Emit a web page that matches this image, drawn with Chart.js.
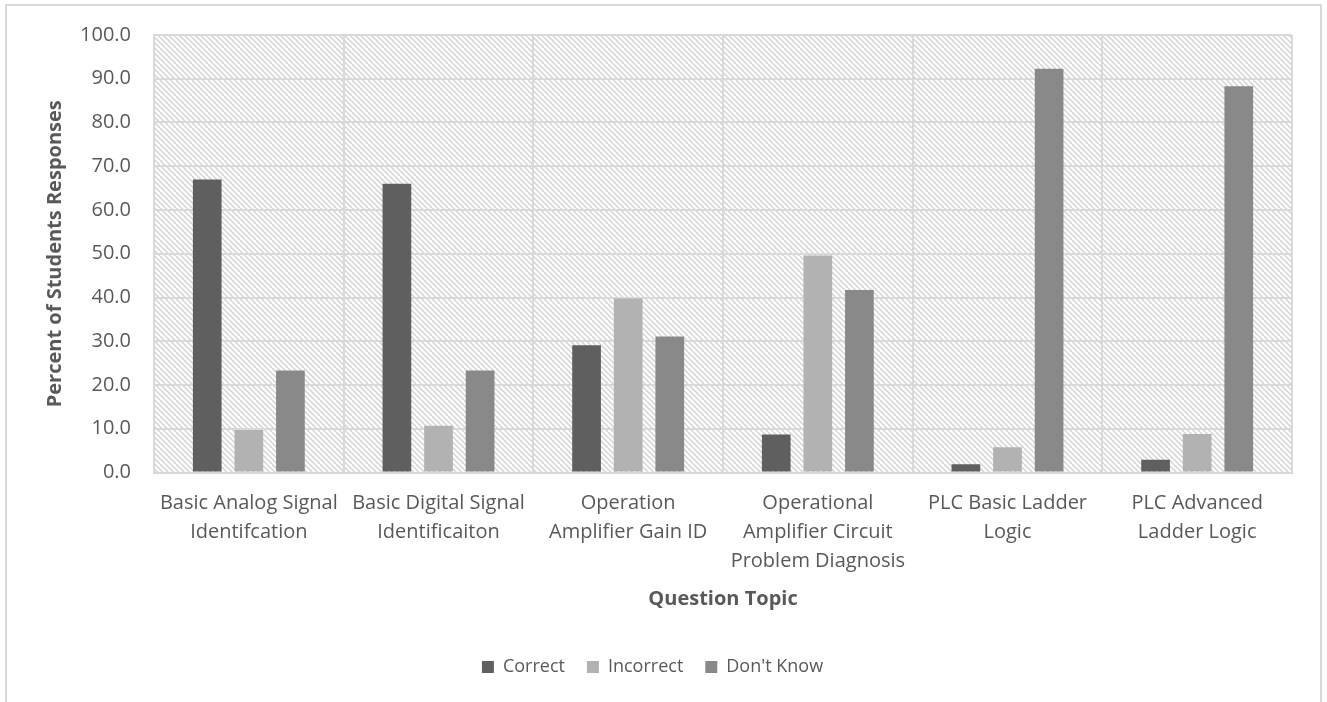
<!DOCTYPE html>
<html>
<head>
<meta charset="utf-8">
<script src="https://cdn.jsdelivr.net/npm/chart.js@4.4.1/dist/chart.umd.min.js"></script>
<style>
  html, body { margin: 0; padding: 0; background: #ffffff; }
  #wrap { position: relative; width: 1327px; height: 702px; }
</style>
</head>
<body>
<div id="wrap"><canvas id="chart"></canvas></div>
<script>
// Question topics (wrapped into lines as they appear under the axis)
const categories = [
  ['Basic Analog Signal', 'Identifcation'],
  ['Basic Digital Signal', 'Identificaiton'],
  ['Operation', 'Amplifier Gain ID'],
  ['Operational', 'Amplifier Circuit', 'Problem Diagnosis'],
  ['PLC Basic Ladder', 'Logic'],
  ['PLC Advanced', 'Ladder Logic']
];

// Percent of student responses per topic
const correct   = [67.0, 66.0, 29.1, 8.7, 1.9, 2.9];
const incorrect = [9.7, 10.7, 39.8, 49.6, 5.8, 8.8];
const dontKnow  = [23.3, 23.3, 31.1, 41.7, 92.3, 88.3];

const seriesNames = ['Correct', 'Incorrect', "Don't Know"];

// Value axis range and step
const yMin = 0;
const yMax = 100;
const yStep = 10;

const TEXT = '#595959';
const GRID = '#d9d9d9';

Chart.defaults.font.family = "'Open Sans', 'DejaVu Sans', sans-serif";

// Light diagonal hatch used behind the plot area
const hatchTile = (() => {
  const s = 16;
  const c = document.createElement('canvas');
  c.width = s; c.height = s;
  const g = c.getContext('2d');
  g.fillStyle = '#ffffff';
  g.fillRect(0, 0, s, s);
  g.strokeStyle = '#d6d6d6';
  g.lineWidth = 1.6;
  for (let k = -4; k <= 4; k++) {
    const x0 = k * s / 3;
    g.beginPath();
    g.moveTo(x0, 0);
    g.lineTo(x0 + s, s);
    g.stroke();
  }
  return c;
})();

const backdrop = {
  id: 'backdrop',
  afterLayout(chart) {
    // nudge the legend row a little to the left of the plot centre
    if (chart.legend) chart.legend.left -= 30;
  },
  beforeDraw(chart) {
    const { ctx, chartArea: a, width, height } = chart;
    ctx.save();
    ctx.fillStyle = '#ffffff';
    ctx.fillRect(0, 0, width, height);
    ctx.fillStyle = ctx.createPattern(hatchTile, 'repeat');
    ctx.fillRect(a.left, a.top, a.right - a.left, a.bottom - a.top);
    // outer frame of the chart
    ctx.strokeStyle = GRID;
    ctx.lineWidth = 2;
    ctx.strokeRect(6, 5, 1315, 720);
    ctx.restore();
  }
};

new Chart(document.getElementById('chart'), {
  type: 'bar',
  data: {
    labels: categories,
    datasets: [
      { label: seriesNames[0], data: correct,   backgroundColor: '#5f5f5f' },
      { label: seriesNames[1], data: incorrect, backgroundColor: '#b2b2b2' },
      { label: seriesNames[2], data: dontKnow,  backgroundColor: '#898989' }
    ]
  },
  options: {
    responsive: true,
    maintainAspectRatio: false,
    animation: false,
    datasets: {
      bar: { categoryPercentage: 0.658, barPercentage: 0.69, borderWidth: 0 }
    },
    layout: { padding: { left: 43, right: 35, top: 34, bottom: 16 } },
    plugins: {
      tooltip: { enabled: false },
      legend: {
        position: 'bottom',
        labels: {
          boxWidth: 12,
          boxHeight: 12,
          padding: 22,
          color: TEXT,
          font: { size: 18 }
        }
      }
    },
    scales: {
      x: {
        grid: { color: GRID, lineWidth: 2, drawTicks: false, offset: true },
        border: { display: true, color: GRID, width: 2 },
        ticks: {
          color: TEXT,
          font: { size: 20, lineHeight: 1.45 },
          padding: 16,
          autoSkip: false,
          maxRotation: 0,
          minRotation: 0
        },
        title: {
          display: true,
          text: 'Question Topic',
          color: TEXT,
          font: { size: 20, weight: 'bold', lineHeight: 1.2 },
          padding: { top: 0, bottom: 25 }
        },
        afterFit(scale) { scale.height = 163.5; }
      },
      y: {
        min: yMin,
        max: yMax,
        grid: { color: GRID, lineWidth: 2, drawTicks: false },
        border: { display: true, color: GRID, width: 2 },
        ticks: {
          stepSize: yStep,
          color: TEXT,
          font: { size: 20 },
          padding: 23,
          callback: (v) => Number(v).toFixed(1)
        },
        title: {
          display: true,
          text: 'Percent of Students Responses',
          color: TEXT,
          font: { size: 20, weight: 'bold', lineHeight: 1.2 },
          padding: { top: 0, bottom: 0 }
        },
        afterFit(scale) { scale.width = 111; }
      }
    }
  },
  plugins: [backdrop]
});
</script>
</body>
</html>
